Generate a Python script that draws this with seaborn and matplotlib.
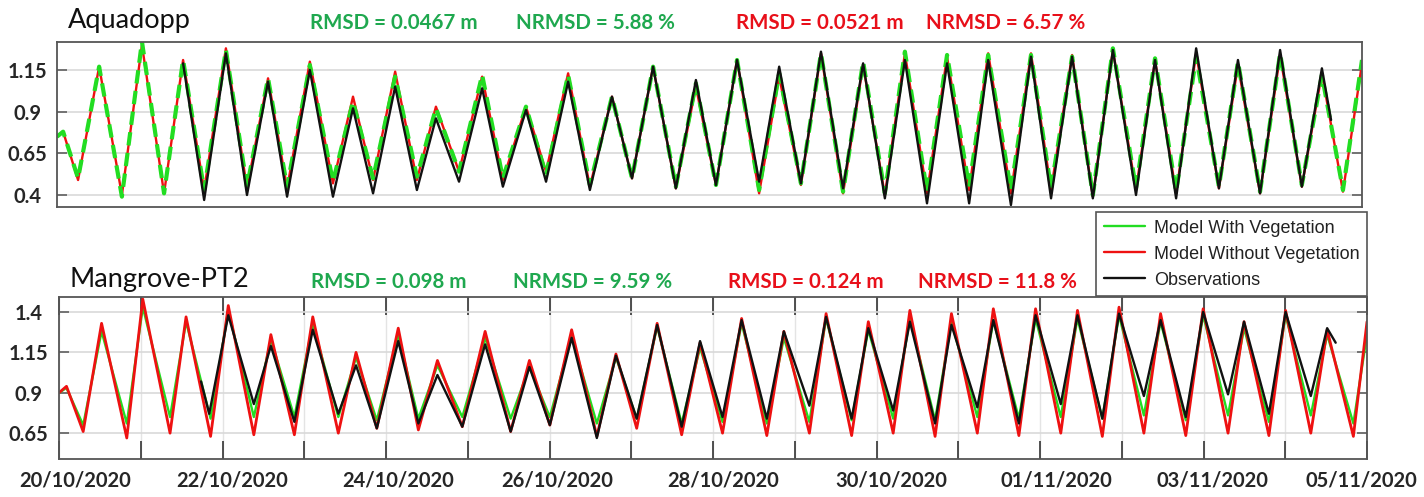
import numpy as np
import pandas as pd
import matplotlib
matplotlib.use("Agg")
import matplotlib.pyplot as plt
import seaborn as sns
from matplotlib.lines import Line2D
from matplotlib.transforms import ScaledTranslation

# ---------------- data (hours since 20/10/2020 00:00, water level in m) ----------------
top_model_hours = [0, 1.8, 6.2, 12.4, 19.1, 25.0, 31.5, 37.1, 43.3, 49.7,
                   55.9, 62.1, 67.7, 74.4, 81.2, 87.1, 93.0, 99.5, 105.9, 111.5,
                   118.3, 125.1, 131.2, 138.0, 143.9, 150.4, 156.8, 163.3, 169.2, 175.4,
                   182.1, 188.0, 193.9, 200.1, 206.6, 212.5, 218.9, 224.8, 231.3, 237.2,
                   243.6, 249.5, 256.0, 261.9, 268.4, 274.0, 280.7, 286.6, 292.5, 298.7,
                   304.8, 310.7, 317.5, 323.1, 329.3, 335.2, 341.9, 347.5, 354.0, 359.9,
                   366.3, 372.2, 378.4, 384.0]
top_without_veg = [0.75, 0.78, 0.49, 1.17, 0.40, 1.30, 0.41, 1.21, 0.43, 1.28,
                   0.44, 1.10, 0.44, 1.20, 0.47, 0.99, 0.49, 1.14, 0.49, 0.93,
                   0.54, 1.11, 0.49, 0.93, 0.54, 1.13, 0.45, 0.99, 0.50, 1.17,
                   0.44, 1.05, 0.46, 1.21, 0.41, 1.11, 0.46, 1.25, 0.41, 1.18,
                   0.40, 1.25, 0.41, 1.23, 0.43, 1.25, 0.41, 1.25, 0.43, 1.24,
                   0.39, 1.27, 0.43, 1.21, 0.41, 1.25, 0.44, 1.18, 0.41, 1.24,
                   0.45, 1.13, 0.42, 1.19]
top_with_veg = [0.75, 0.78, 0.50, 1.17, 0.39, 1.32, 0.41, 1.21, 0.43, 1.27,
                0.45, 1.10, 0.45, 1.18, 0.48, 0.96, 0.50, 1.11, 0.51, 0.92,
                0.54, 1.12, 0.50, 0.93, 0.52, 1.12, 0.46, 0.99, 0.50, 1.17,
                0.45, 1.07, 0.46, 1.21, 0.43, 1.13, 0.47, 1.25, 0.42, 1.20,
                0.41, 1.26, 0.42, 1.24, 0.45, 1.24, 0.43, 1.24, 0.44, 1.23,
                0.40, 1.28, 0.44, 1.22, 0.42, 1.23, 0.45, 1.20, 0.42, 1.25,
                0.46, 1.12, 0.43, 1.21]
top_obs_hours = [37.1, 43.3, 49.7, 55.9, 62.1, 67.7, 74.4, 81.2, 87.1, 93.0,
                 99.5, 105.9, 111.5, 118.3, 125.1, 131.2, 138.0, 143.9, 150.4, 156.8,
                 163.3, 169.2, 175.4, 182.1, 188.0, 193.9, 200.1, 206.6, 212.5, 218.9,
                 224.8, 231.3, 237.2, 243.6, 249.5, 256.0, 261.9, 268.4, 274.0, 280.7,
                 286.6, 292.5, 298.7, 304.8, 310.7, 317.5, 323.1, 329.3, 335.2, 341.9,
                 347.5, 354.0, 359.9, 366.3, 372.2, 374.9]
top_obs = [1.19, 0.37, 1.25, 0.40, 1.08, 0.39, 1.15, 0.39, 0.92, 0.41,
           1.05, 0.43, 0.86, 0.48, 1.04, 0.45, 0.91, 0.48, 1.08, 0.43,
           0.99, 0.50, 1.17, 0.44, 1.09, 0.46, 1.21, 0.48, 1.17, 0.47,
           1.26, 0.44, 1.19, 0.38, 1.21, 0.35, 1.19, 0.35, 1.21, 0.34,
           1.23, 0.38, 1.23, 0.38, 1.27, 0.40, 1.21, 0.38, 1.28, 0.44,
           1.21, 0.41, 1.27, 0.45, 1.16, 0.85]

bot_model_hours = [0, 2.2, 7.1, 12.5, 19.9, 24.6, 32.6, 37.3, 44.5, 49.7,
                   57.2, 62.2, 69.1, 74.5, 82.0, 87.2, 93.3, 99.6, 105.5, 111.1,
                   118.4, 125.1, 132.6, 138.1, 144.1, 150.5, 157.9, 163.5, 169.6, 175.6,
                   182.8, 188.2, 194.8, 200.4, 207.8, 212.8, 220.3, 225.2, 232.7, 237.6,
                   244.9, 249.8, 257.2, 262.0, 269.6, 274.3, 281.8, 286.7, 294.1, 299.0,
                   306.3, 311.2, 318.5, 323.4, 330.8, 335.9, 343.2, 347.9, 355.2, 360.1,
                   367.5, 372.3, 380.0, 384.0]
bot_without_veg = [0.90, 0.94, 0.66, 1.33, 0.62, 1.48, 0.65, 1.37, 0.63, 1.44,
                   0.64, 1.26, 0.64, 1.37, 0.65, 1.15, 0.68, 1.30, 0.67, 1.10,
                   0.69, 1.28, 0.66, 1.10, 0.70, 1.29, 0.63, 1.14, 0.68, 1.33,
                   0.64, 1.21, 0.65, 1.36, 0.635, 1.28, 0.65, 1.39, 0.635, 1.34,
                   0.65, 1.41, 0.63, 1.39, 0.65, 1.42, 0.635, 1.42, 0.65, 1.41,
                   0.63, 1.43, 0.65, 1.39, 0.635, 1.42, 0.65, 1.34, 0.635, 1.41,
                   0.65, 1.29, 0.63, 1.34]
bot_with_veg = [0.90, 0.93, 0.70, 1.28, 0.71, 1.43, 0.75, 1.34, 0.74, 1.41,
                0.75, 1.23, 0.75, 1.33, 0.75, 1.12, 0.73, 1.26, 0.74, 1.07,
                0.75, 1.24, 0.74, 1.06, 0.75, 1.25, 0.71, 1.12, 0.74, 1.31,
                0.71, 1.18, 0.72, 1.33, 0.71, 1.24, 0.72, 1.36, 0.73, 1.29,
                0.74, 1.36, 0.73, 1.34, 0.75, 1.35, 0.74, 1.36, 0.75, 1.36,
                0.74, 1.38, 0.76, 1.34, 0.73, 1.38, 0.76, 1.30, 0.72, 1.38,
                0.76, 1.26, 0.71, 1.26]
bot_obs_hours = [41.7, 44.1, 49.7, 57.2, 62.2, 69.1, 74.5, 82.0, 87.2, 93.3,
                 99.6, 105.5, 111.1, 118.4, 125.1, 132.6, 138.1, 144.1, 150.5, 157.9,
                 163.5, 169.6, 175.6, 182.8, 188.2, 194.8, 200.4, 207.8, 212.8, 220.3,
                 225.2, 232.7, 237.6, 244.9, 249.8, 257.2, 262.0, 269.6, 274.3, 281.8,
                 286.7, 294.1, 299.0, 306.3, 311.2, 318.5, 323.4, 330.8, 335.9, 343.2,
                 347.9, 355.2, 360.1, 367.5, 372.3, 374.8]
bot_obs = [0.97, 0.77, 1.38, 0.83, 1.19, 0.72, 1.29, 0.77, 1.07, 0.68,
           1.22, 0.71, 1.01, 0.69, 1.20, 0.66, 1.06, 0.70, 1.24, 0.62,
           1.13, 0.74, 1.32, 0.69, 1.22, 0.75, 1.35, 0.74, 1.28, 0.82,
           1.37, 0.74, 1.30, 0.79, 1.34, 0.71, 1.32, 0.81, 1.35, 0.71,
           1.38, 0.83, 1.38, 0.74, 1.39, 0.88, 1.35, 0.75, 1.40, 0.89,
           1.34, 0.77, 1.40, 0.88, 1.30, 1.21]

top_yticks = [0.4, 0.65, 0.9, 1.15]
top_yticklabels = ["0.4", "0.65", "0.9", "1.15"]
bot_yticks = [0.65, 0.9, 1.15, 1.4]
bot_yticklabels = ["0.65", "0.9", "1.15", "1.4"]
x_tick_labels = ["20/10/2020", "22/10/2020", "24/10/2020", "26/10/2020", "28/10/2020",
                 "30/10/2020", "01/11/2020", "03/11/2020", "05/11/2020"]
series_names = ["Model With Vegetation", "Model Without Vegetation", "Observations"]
panel_titles = ["Aquadopp", "Mangrove-PT2"]
top_stats = ["RMSD = 0.0467 m", "NRMSD = 5.88 %", "RMSD = 0.0521 m", "NRMSD = 6.57 %"]
bot_stats = ["RMSD = 0.098 m", "NRMSD = 9.59 %", "RMSD = 0.124 m", "NRMSD = 11.8 %"]

# ---------------- styling ----------------
sns.set_theme(style="white")
plt.rcParams["font.family"] = ["Lato", "DejaVu Sans"]
plt.rcParams["lines.solid_joinstyle"] = "round"
plt.rcParams["lines.dash_joinstyle"] = "round"

C_GREEN = "#22dd22"
C_RED = "#ee1111"
C_BLACK = "#111111"
T_GREEN = "#1fa84f"
T_RED = "#e8101a"

W, H = 1424, 497
fig = plt.figure(figsize=(W / 100, H / 100), dpi=100)
ax1 = fig.add_axes([57 / W, 1 - 207 / H, (1362 - 57) / W, 165 / H])
ax2 = fig.add_axes([59 / W, 1 - 459 / H, (1367 - 59) / W, 162 / H])

start = pd.Timestamp("2020-10-20 00:00")


def to_dt(hours):
    return start + pd.to_timedelta(np.asarray(hours, dtype=float), unit="h")


# top panel
sns.lineplot(x=to_dt(top_model_hours), y=top_without_veg, ax=ax1, color=C_RED,
             lw=1.7, estimator=None, sort=False, legend=False)
sns.lineplot(x=to_dt(top_model_hours), y=top_with_veg, ax=ax1, color=C_GREEN,
             lw=3.0, estimator=None, sort=False, legend=False)
ax1.lines[-1].set_linestyle((0, (3.2, 1.8)))
sns.lineplot(x=to_dt(top_obs_hours), y=top_obs, ax=ax1, color=C_BLACK,
             lw=1.7, estimator=None, sort=False, legend=False)

# bottom panel
sns.lineplot(x=to_dt(bot_model_hours), y=bot_with_veg, ax=ax2, color=C_GREEN,
             lw=1.7, estimator=None, sort=False, legend=False)
sns.lineplot(x=to_dt(bot_model_hours), y=bot_without_veg, ax=ax2, color=C_RED,
             lw=2.0, estimator=None, sort=False, legend=False)
sns.lineplot(x=to_dt(bot_obs_hours), y=bot_obs, ax=ax2, color=C_BLACK,
             lw=1.7, estimator=None, sort=False, legend=False)

x0, x1 = start, start + pd.Timedelta(days=16)
for ax in (ax1, ax2):
    ax.set_xlim(x0, x1)
    ax.set_xlabel("")
    ax.set_ylabel("")
    ax.set_axisbelow(True)
    for s in ax.spines.values():
        s.set_color("#555555")
        s.set_linewidth(1.3)
    ax.grid(axis="y", color="#d9d9d9", lw=1.2)
    ax.tick_params(axis="y", direction="in", length=7, width=1.1, color="#555555",
                   left=True, right=True, pad=21, labelsize=14.5)

ax1.set_ylim(0.328, 1.318)
ax1.set_yticks(top_yticks)
ax1.set_yticklabels(top_yticklabels, fontweight="bold")
ax1.tick_params(axis="x", which="both", bottom=False, top=False, labelbottom=False)

ax2.set_ylim(0.49, 1.493)
ax2.set_yticks(bot_yticks)
ax2.set_yticklabels(bot_yticklabels, fontweight="bold")
ax2.tick_params(axis="y", pad=22)

major_days = [start + pd.Timedelta(days=2 * i) for i in range(len(x_tick_labels))]
minor_days = [start + pd.Timedelta(days=2 * i + 1) for i in range(len(x_tick_labels) - 1)]
ax2.set_xticks(major_days)
ax2.set_xticklabels(x_tick_labels, fontweight="bold")
ax2.set_xticks(minor_days, minor=True)
ax2.tick_params(axis="x", which="both", direction="in", length=13, width=1.2,
                color="#333333", bottom=True, top=True, labelsize=14.5, pad=8)
ax2.grid(axis="x", which="both", color="#e4e4e4", lw=1.0)

for ax in (ax1, ax2):
    for lbl in ax.get_yticklabels():
        lbl.set_horizontalalignment("center")

label_shift_px = [16, 10, 12, 8, 10, 15, 16, 9, -6]
for lbl, dx in zip(ax2.get_xticklabels(), label_shift_px):
    lbl.set_transform(lbl.get_transform() + ScaledTranslation(dx / 100, 0, fig.dpi_scale_trans))

# titles and statistics
fig.text(68 / W, 1 - 28 / H, panel_titles[0], fontsize=19.5, va="baseline", color="#111111")
fig.text(69 / W, 1 - 287 / H, panel_titles[1], fontsize=19.5, va="baseline", color="#111111")
stat_colors = [T_GREEN, T_GREEN, T_RED, T_RED]
for txt, xp, c in zip(top_stats, [310, 516, 736, 926], stat_colors):
    fig.text(xp / W, 1 - 29 / H, txt, fontsize=14.8, fontweight="bold", color=c, va="baseline")
for txt, xp, c in zip(bot_stats, [311, 513, 728, 918], stat_colors):
    fig.text(xp / W, 1 - 288 / H, txt, fontsize=14.8, fontweight="bold", color=c, va="baseline")

handles = [Line2D([], [], color=C_GREEN, lw=1.7),
           Line2D([], [], color=C_RED, lw=1.7),
           Line2D([], [], color=C_BLACK, lw=1.7)]
leg = fig.legend(handles, series_names, loc="upper left",
                 bbox_to_anchor=(1096 / W, 1 - 212 / H), borderaxespad=0,
                 frameon=True, fancybox=False, framealpha=1, edgecolor="#555555",
                 prop={"family": "Liberation Sans", "size": 13},
                 handlelength=2.3, handletextpad=0.5, labelspacing=0.5, borderpad=0.42)
leg.get_frame().set_linewidth(1.2)
for t in leg.get_texts():
    t.set_color("#222222")

fig.savefig("out.png", dpi=100)
